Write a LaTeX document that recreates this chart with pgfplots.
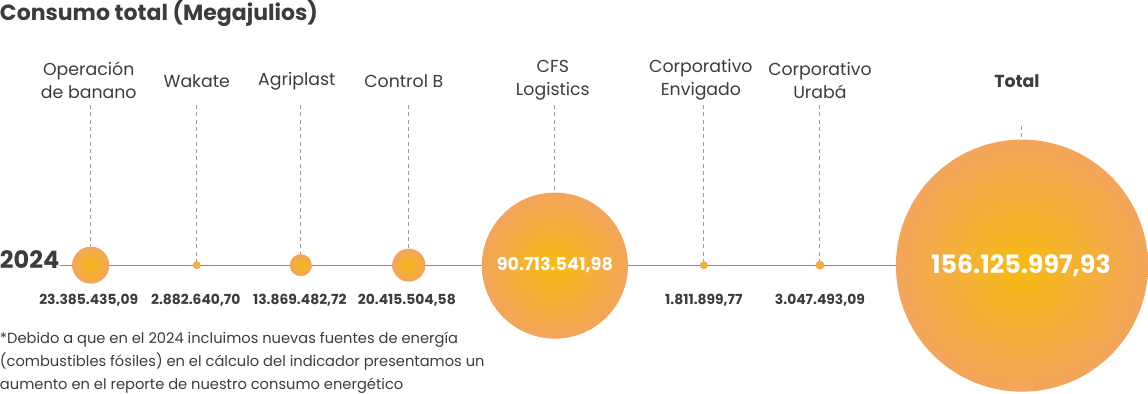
\documentclass[border=0pt]{standalone}
\usepackage{fontspec}
\setmainfont{Poppins}
\usepackage{pgfplots}
\pgfplotsset{compat=1.18}
\usepackage{pgfplotstable}
\definecolor{txt}{HTML}{3C3C3C}
\definecolor{bin}{HTML}{F6BA12}
\definecolor{bout}{HTML}{F3A55B}
\definecolor{ln}{HTML}{8C8C8C}
\definecolor{dsh}{HTML}{9A9A9A}

\pgfplotstableread{
x y r v
91 265 18.5 23385435.09
197 265 4 2882640.70
301 265 11 13869482.72
409 265 16.5 20415504.58
555 265.5 73 90713541.98
704 265 4 1811899.77
820 265 4.5 3047493.09
1022 265.5 126 156125997.93
}\bubbles

\begin{document}
\begin{tikzpicture}
\begin{axis}[scale only axis, width=861pt, height=299.25pt,
  xmin=0, xmax=1148, ymin=0, ymax=399, y dir=reverse,
  hide axis, clip=false]
% baseline
\addplot[ln, line width=0.75pt] coordinates {(60,265) (896,265)};
% dashed leaders
\addplot[dsh, line width=0.75pt, dash pattern=on 3pt off 2.5pt] coordinates {(91,105) (91,246)};
\addplot[dsh, line width=0.75pt, dash pattern=on 3pt off 2.5pt] coordinates {(197,105) (197,261)};
\addplot[dsh, line width=0.75pt, dash pattern=on 3pt off 2.5pt] coordinates {(301,105) (301,254)};
\addplot[dsh, line width=0.75pt, dash pattern=on 3pt off 2.5pt] coordinates {(409,105) (409,248)};
\addplot[dsh, line width=0.75pt, dash pattern=on 3pt off 2.5pt] coordinates {(555,105) (555,192)};
\addplot[dsh, line width=0.75pt, dash pattern=on 3pt off 2.5pt] coordinates {(704,105) (704,261)};
\addplot[dsh, line width=0.75pt, dash pattern=on 3pt off 2.5pt] coordinates {(820,105) (820,261)};
\addplot[dsh, line width=0.75pt, dash pattern=on 3pt off 2.5pt] coordinates {(1022,126) (1022,139)};
% bubbles
\addplot[only marks, mark=none, nodes near coords={},
  visualization depends on={\thisrow{r}\as\rad},
  every node near coord/.style={circle, inner sep=0pt, anchor=center,
    minimum size=\rad*1.5pt, shade, inner color=bin, outer color=bout}]
  table[x=x, y=y]{\bubbles};
% white labels inside the large bubbles
\addplot[only marks, mark=none, point meta=explicit symbolic, nodes near coords,
  every node near coord/.style={anchor=center, inner sep=0pt, text=white,
    font=\fontsize{13.2}{16}\selectfont\bfseries}]
  table[meta=lab] {
x y lab
555 265 90.713.541,98
};
\addplot[only marks, mark=none, point meta=explicit symbolic, nodes near coords,
  every node near coord/.style={anchor=center, inner sep=0pt, text=white,
    font=\fontsize{19}{22}\selectfont\bfseries}]
  table[meta=lab] {
x y lab
1021 266 156.125.997,93
};
% texts
\begin{scope}[every node/.style={inner sep=0pt, text=txt}]
\node[anchor=west, font=\fontsize{16.5}{20}\selectfont\bfseries] at (0,13) {Consumo total (Megajulios)};
\node[anchor=west, font=\fontsize{18}{20}\selectfont\bfseries] at (0,259) {2024};
\begin{scope}[every node/.append style={align=center, font=\fontsize{13}{17.25}\selectfont}]
\node at (89,80) {Operación\\de banano};
\node at (197,81) {Wakate};
\node at (297,81) {Agriplast};
\node at (404,81) {Control B};
\node at (553,80) {CFS\\Logistics};
\node at (701,80) {Corporativo\\Envigado};
\node at (820,80) {Corporativo\\Urabá};
\node[font=\fontsize{13}{17.25}\selectfont\bfseries] at (1017,81) {Total};
\end{scope}
\begin{scope}[every node/.append style={font=\fontsize{10.4}{12}\selectfont\bfseries}]
\node at (89,300) {23.385.435,09};
\node at (196,300) {2.882.640,70};
\node at (300,300) {13.869.482,72};
\node at (407,300) {20.415.504,58};
\node at (704,300) {1.811.899,77};
\node at (820,300) {3.047.493,09};
\end{scope}
\node[anchor=north west, align=left, font=\fontsize{11}{17.25}\selectfont] at (0,332) {*Debido a que en el 2024 incluimos nuevas fuentes de energía\\(combustibles fósiles) en el cálculo del indicador presentamos un\\aumento en el reporte de nuestro consumo energético};
\end{scope}
\end{axis}
\end{tikzpicture}
\end{document}
